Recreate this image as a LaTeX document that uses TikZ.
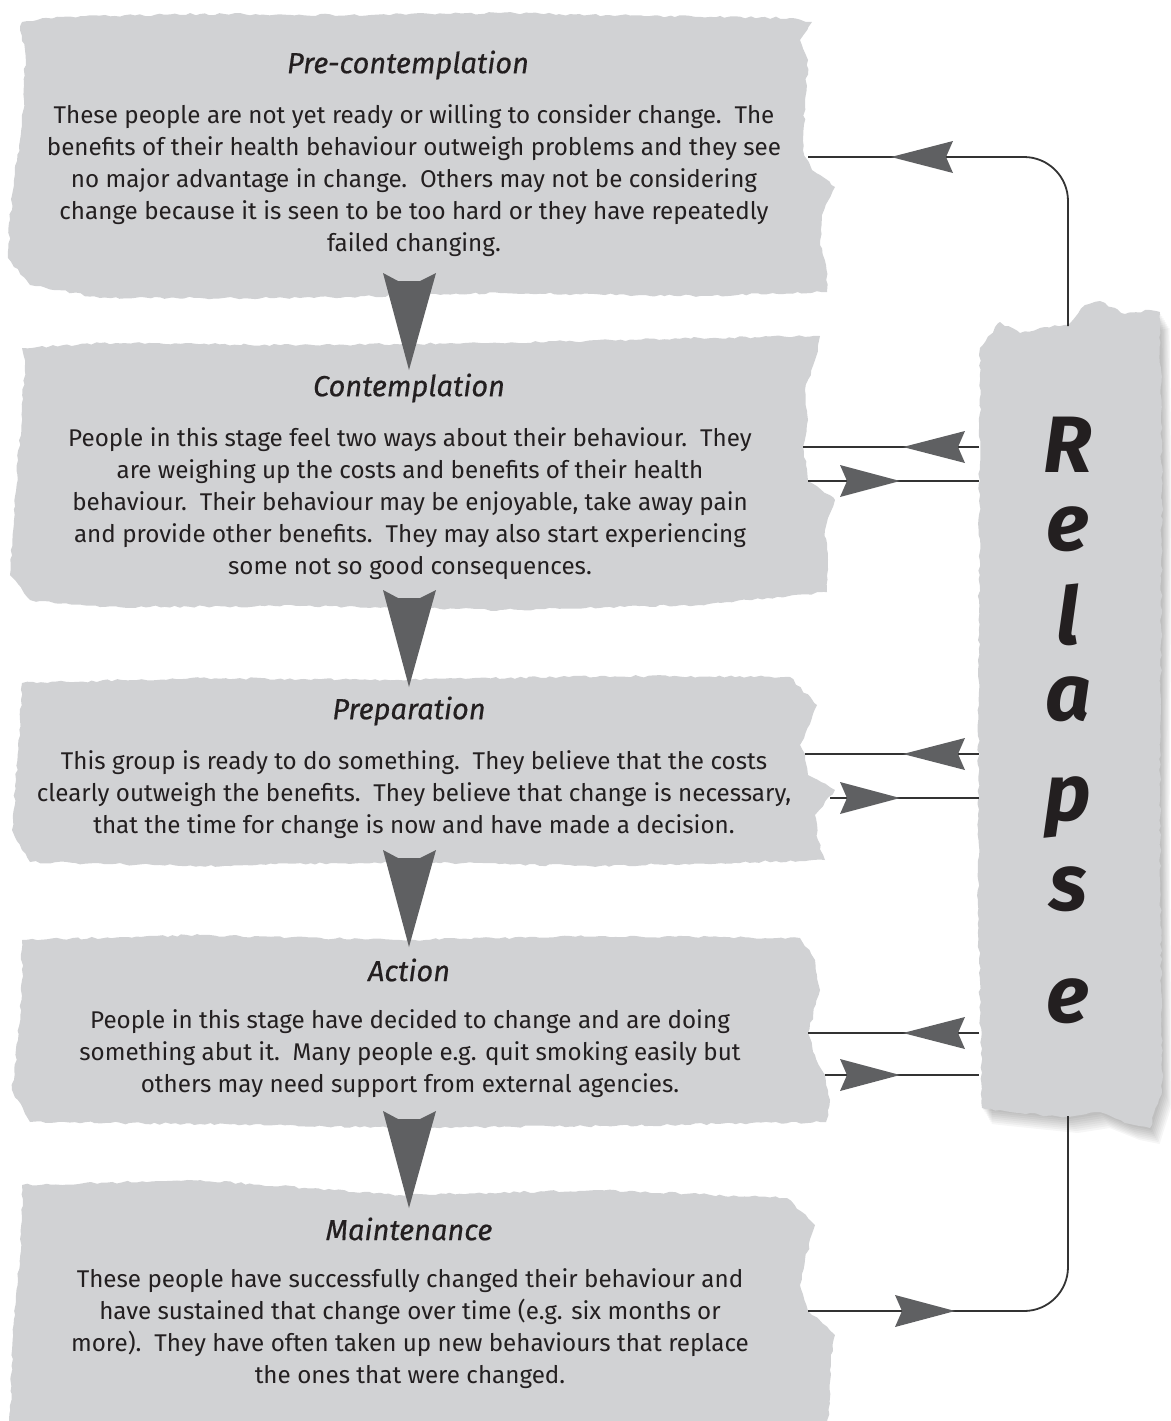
\documentclass[tikz,border=0pt]{standalone}
\usepackage{fontspec}
\setmainfont{Fira Sans}
\newfontfamily\titlefont{Fira Sans}[FakeBold=0.5]
\usetikzlibrary{decorations.pathmorphing}
\definecolor{paper}{HTML}{D1D2D4}
\definecolor{arrowfill}{HTML}{5F6062}
\definecolor{linecol}{HTML}{333333}
\definecolor{textcol}{HTML}{231F20}
\tikzset{
  torn/.style={fill=paper, decorate, decoration={random steps, segment length=2.5pt, amplitude=0.6pt}},
  stitle/.style={font=\titlefont\fontsize{14.5}{17}\selectfont\itshape, text=textcol, inner sep=0pt},
  sbody/.style={font=\fontsize{12.1}{16}\selectfont, align=center, text=textcol, inner sep=0pt},
  rletter/.style={font=\fontsize{40}{40}\selectfont\bfseries\itshape, text=textcol, inner sep=0pt, anchor=base},
  conn/.style={draw=linecol, line width=0.9pt},
  headL/.pic={\fill[arrowfill] (0,0) -- (62,-16) -- (55,0) -- (62,16) -- cycle;},
  headR/.pic={\fill[arrowfill] (0,0) -- (-60,-16) -- (-53,0) -- (-60,16) -- cycle;},
  headD/.pic={\fill[arrowfill] (0,0) -- (-26,-97) -- (-11,-89) -- (11,-89) -- (27,-97) -- cycle;}
}
\begin{document}
\begin{tikzpicture}[x=0.5pt,y=-0.5pt]
\useasboundingbox (0,0) rectangle (1171,1421);
\clip (0,0) rectangle (1171,1421);
\pgfmathsetseed{7}
% ---------- stage boxes ----------
\path[torn] (22,22) -- (60,17) -- (200,14) -- (350,15) -- (500,13) -- (650,16) -- (790,18) -- (812,22) -- (800,40) -- (808,60) -- (805,100) -- (803,150) -- (812,170) -- (835,187) -- (822,215) -- (820,245) -- (826,265) -- (827,292) -- (700,296) -- (500,293) -- (300,298) -- (100,298) -- (30,285) -- (8,258) -- (10,220) -- (14,180) -- (20,140) -- (24,100) -- (25,50) -- (20,30) -- cycle;
\path[torn] (22,348) -- (100,343) -- (300,345) -- (500,343) -- (700,338) -- (820,336) -- (815,360) -- (805,390) -- (808,420) -- (803,447) -- (806,465) -- (808,481) -- (835,500) -- (825,530) -- (828,560) -- (827,592) -- (700,605) -- (500,610) -- (300,606) -- (100,607) -- (30,600) -- (10,575) -- (14,520) -- (18,460) -- (22,410) -- (25,365) -- cycle;
\path[torn] (22,683) -- (200,678) -- (400,680) -- (600,676) -- (790,677) -- (817,705) -- (800,745) -- (805,754) -- (808,775) -- (835,790) -- (815,815) -- (818,840) -- (825,860) -- (600,866) -- (400,862) -- (200,866) -- (30,862) -- (12,830) -- (16,780) -- (20,720) -- cycle;
\path[torn] (22,940) -- (200,935) -- (400,940) -- (600,936) -- (800,938) -- (815,960) -- (820,990) -- (808,1033) -- (815,1055) -- (825,1075) -- (830,1100) -- (826,1122) -- (600,1126) -- (400,1128) -- (200,1124) -- (30,1122) -- (12,1090) -- (18,1040) -- (22,980) -- cycle;
\path[torn] (22,1185) -- (200,1180) -- (400,1195) -- (600,1190) -- (787,1198) -- (815,1225) -- (805,1260) -- (800,1285) -- (808,1311) -- (835,1335) -- (830,1370) -- (828,1430) -- (10,1430) -- (12,1350) -- (18,1280) -- (22,1220) -- cycle;
% ---------- relapse box with soft shadow ----------
\foreach \s in {2,4,...,16}{
  \fill[black, opacity=0.035, shift={(\s*0.6,\s)}] (980,348) -- (1160,312) -- (1162,500) -- (1160,800) -- (1162,1090) -- (1150,1128) -- (1130,1124) -- (1100,1112) -- (1068,1117) -- (1000,1110) -- (982,1108) -- cycle;
}
\path[torn] (980,348) -- (1000,322) -- (1020,333) -- (1045,327) -- (1068,325) -- (1085,305) -- (1100,301) -- (1125,314) -- (1150,310) -- (1160,312) -- (1162,500) -- (1160,800) -- (1162,1090) -- (1150,1128) -- (1130,1124) -- (1100,1112) -- (1068,1117) -- (1040,1115) -- (1000,1110) -- (982,1108) -- (978,900) -- (979,600) -- cycle;
% ---------- texts ----------
\node[stitle] (t1) at (408,65) {Pre-contemplation};
\node[sbody] (b1) at (414,181) {These people are not yet ready or willing to consider change.\ \ The\\
benefits of their health behaviour outweigh problems and they see\\
no major advantage in change.\ \ Others may not be considering\\
change because it is seen to be too hard or they have repeatedly\\
failed changing.};
\node[stitle] (t2) at (409,388) {Contemplation};
\node[sbody] (b2) at (410,504) {People in this stage feel two ways about their behaviour.\ \ They\\
are weighing up the costs and benefits of their health\\
behaviour.\ \ Their behaviour may be enjoyable, take away pain\\
and provide other benefits.\ \ They may also start experiencing\\
some not so good consequences.};
\node[stitle] (t3) at (409,711) {Preparation};
\node[sbody] (b3) at (414,795) {This group is ready to do something.\ \ They believe that the costs\\
clearly outweigh the benefits.\ \ They believe that change is necessary,\\
that the time for change is now and have made a decision.};
\node[stitle] (t4) at (409,970) {Action};
\node[sbody] (b4) at (410,1054) {People in this stage have decided to change and are doing\\
something abut it.\ \ Many people e.g. quit smoking easily but\\
others may need support from external agencies.};
\node[stitle] (t5) at (409,1229) {Maintenance};
\node[sbody] (b5) at (410,1329) {These people have successfully changed their behaviour and\\
have sustained that change over time (e.g. six months or\\
more).\ \ They have often taken up new behaviours that replace\\
the ones that were changed.};
% ---------- relapse letters ----------
\node[rletter] (r1) at (1068,472) {R};
\node[rletter] (r2) at (1068,550) {e};
\node[rletter] (r3) at (1068,644) {l};
\node[rletter] (r4) at (1068,720) {a};
\node[rletter] (r5) at (1068,820) {p};
\node[rletter] (r6) at (1068,910) {s};
\node[rletter] (r7) at (1068,1022) {e};
% ---------- down arrows ----------
\pic at (409,370) {headD};
\pic at (409,687) {headD};
\pic at (409,947) {headD};
\pic at (409,1208) {headD};
% ---------- connector end points ----------
\coordinate (e1) at (808,157);
\coordinate (relTop) at (1068,326);
\coordinate (e2a) at (803,447);
\coordinate (e2b) at (808,481);
\coordinate (e3a) at (805,754);
\coordinate (e3b) at (830,798);
\coordinate (e4a) at (808,1033);
\coordinate (e4b) at (825,1075);
\coordinate (e5) at (808,1311);
\coordinate (relBot) at (1068,1116);
\coordinate (r2a) at (979,447);
\coordinate (r2b) at (979,481);
\coordinate (r3a) at (979,754);
\coordinate (r3b) at (979,798);
\coordinate (r4a) at (979,1033);
\coordinate (r4b) at (979,1075);
% ---------- connectors ----------
\draw[conn, rounded corners=22pt] (relTop) -- (relTop |- e1) -- (e1);
\draw[conn, rounded corners=22pt] (relBot) -- (relBot |- e5) -- (e5);
\draw[conn] (r2a) -- (e2a);
\draw[conn] (e2b) -- (r2b);
\draw[conn] (r3a) -- (e3a);
\draw[conn] (e3b) -- (r3b);
\draw[conn] (r4a) -- (e4a);
\draw[conn] (e4b) -- (r4b);
% ---------- arrow heads on connectors ----------
\pic at (891,157) {headL};
\pic at (903,447) {headL};
\pic at (900,481) {headR};
\pic at (903,754) {headL};
\pic at (900,798) {headR};
\pic at (903,1033) {headL};
\pic at (900,1075) {headR};
\pic at (955,1311) {headR};
\end{tikzpicture}
\end{document}
